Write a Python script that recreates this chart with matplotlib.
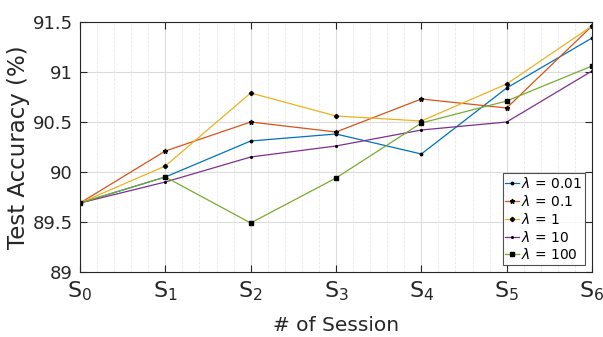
import matplotlib
matplotlib.use("Agg")
import matplotlib.pyplot as plt
from matplotlib.ticker import MultipleLocator, FuncFormatter

sessions = ["S$_0$", "S$_1$", "S$_2$", "S$_3$", "S$_4$", "S$_5$", "S$_6$"]
labels = ["$\\lambda$ = 0.01", "$\\lambda$ = 0.1", "$\\lambda$ = 1", "$\\lambda$ = 10", "$\\lambda$ = 100"]
lam_001 = [89.69, 89.95, 90.31, 90.38, 90.18, 90.84, 91.34]
lam_01 = [89.69, 90.21, 90.50, 90.40, 90.73, 90.64, 91.46]
lam_1 = [89.69, 90.06, 90.79, 90.56, 90.51, 90.88, 91.46]
lam_10 = [89.69, 89.90, 90.15, 90.26, 90.42, 90.50, 91.01]
lam_100 = [89.69, 89.95, 89.49, 89.94, 90.49, 90.71, 91.06]

series = [lam_001, lam_01, lam_1, lam_10, lam_100]
colors = ["#0072BD", "#D95319", "#EDB120", "#7E2F8E", "#77AC30"]
markers = [".", "*", "D", ".", "s"]
msizes = [3.5, 3.5, 2.2, 2.5, 2.2]

fig = plt.figure(figsize=(6.03, 3.37), dpi=100)
ax = fig.add_axes([80/603, 1-272/337, 512/603, 250/337])
x = list(range(len(sessions)))
for ys, c, m, ms, lb in zip(series, colors, markers, msizes, labels):
    ax.plot(x, ys, color=c, lw=0.9, marker=m, ms=ms, mfc="black", mec="black", label=lb)

ax.set_xlim(0, 6)
ax.set_ylim(89, 91.5)
ax.set_xticks(x)
ax.set_xticklabels(sessions)
ax.xaxis.set_minor_locator(MultipleLocator(0.2))
ax.yaxis.set_major_locator(MultipleLocator(0.5))
ax.yaxis.set_major_formatter(FuncFormatter(lambda v, p: f"{v:g}"))
ax.grid(True, which="major", color="#dcdcdc", lw=0.8)
ax.grid(True, which="minor", axis="x", color="#e6e6e6", lw=0.6, ls=(0, (3, 2)))
ax.set_axisbelow(True)
ax.tick_params(which="both", direction="in", top=True, right=True, labelsize=13, colors="#262626", pad=5)
ax.tick_params(axis="x", which="major", labelsize=16, pad=5)
ax.tick_params(which="major", length=5)
ax.tick_params(which="minor", length=0)
for s in ax.spines.values():
    s.set_color("#262626")
    s.set_linewidth(0.8)
ax.set_xlabel("# of Session", fontsize=14.5, color="#262626", labelpad=10)
ax.set_ylabel("Test Accuracy (%)", fontsize=16.5, color="#262626", labelpad=2)
leg = ax.legend(loc="lower right", fontsize=10, frameon=True, fancybox=False, edgecolor="#262626",
                handlelength=1.0, handletextpad=0.15, borderpad=0.2, labelspacing=0.2,
                borderaxespad=0.5)
leg.get_frame().set_linewidth(0.8)
fig.savefig("out.png", dpi=100)
